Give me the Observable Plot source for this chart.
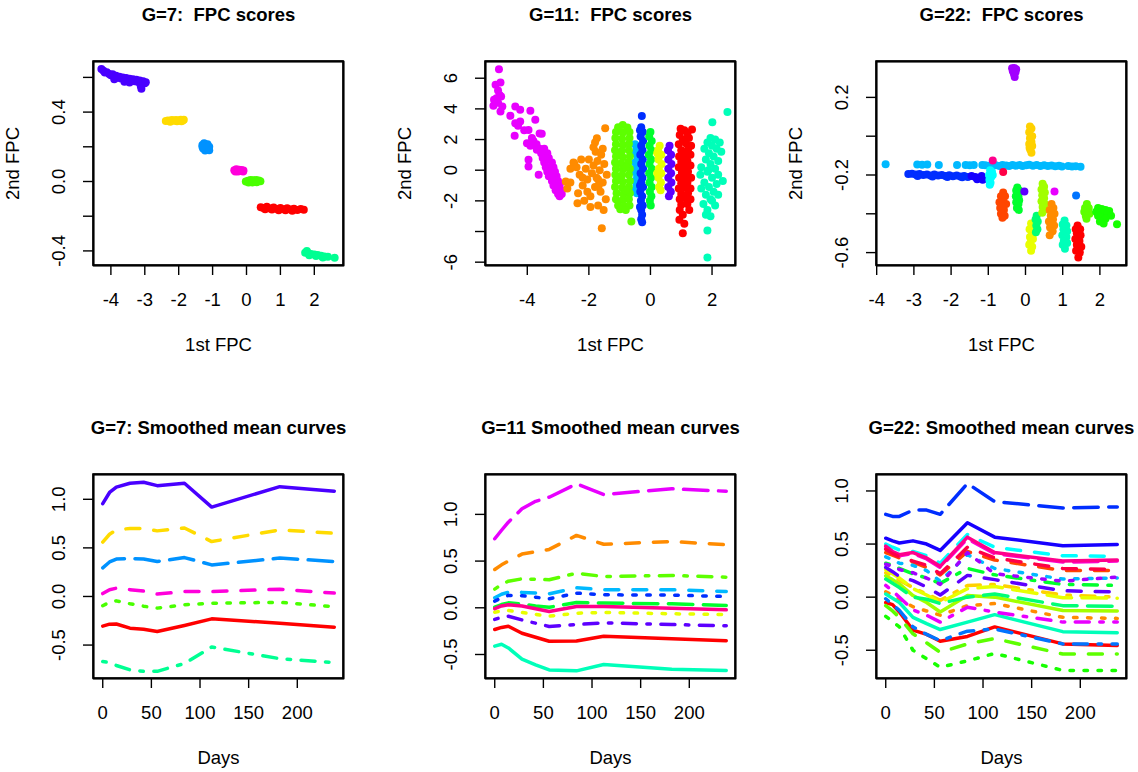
<!DOCTYPE html>
<html><head><meta charset="utf-8">
<script src="https://cdn.jsdelivr.net/npm/d3@7"></script>
<script src="https://cdn.jsdelivr.net/npm/@observablehq/plot@0.6"></script>
<style>
html,body{margin:0;padding:0;background:#fff;overflow:hidden;}
#root{position:relative;width:1138px;height:772px;}
#root svg{position:absolute;overflow:visible;}
#root text{white-space:pre;}
</style></head><body><div id="root"></div>
<script>
// ---------- common ----------
const days = [0, 7, 14, 28, 42, 56, 84, 112, 182, 238];
const rainbow7 = ["#FF0000","#FFDB00","#49FF00","#00FF92","#0092FF","#4900FF","#FF00DB"];
const rainbow11 = ["#FF0000","#FF8B00","#E8FF00","#5DFF00","#00FF2E","#00FFB9","#00B9FF","#002EFF","#5D00FF","#E800FF","#FF008B"];
const rainbow22 = ["#FF0000","#FF4600","#FF8B00","#FFD100","#E8FF00","#A2FF00","#5DFF00","#17FF00","#00FF2E","#00FF74","#00FFB9","#00FFFF","#00B9FF","#0074FF","#002EFF","#1700FF","#5D00FF","#A200FF","#E800FF","#FF00D1","#FF008B","#FF0046"];
const ltyDash = [null, "14,14", "3.5,10.5", "3.5,10.5,14,10.5", "24.5,10.5"];

// ---------- G=7 FPC scores ----------
const g7Purple = [[-4.28,0.648],[-4.22,0.638],[-4.18,0.628],[-4.12,0.63],[-4.05,0.62],[-4.0,0.612],[-3.95,0.618],[-3.9,0.605],[-3.85,0.61],[-3.8,0.598],[-3.75,0.604],[-3.7,0.594],[-3.65,0.6],[-3.6,0.588],[-3.55,0.596],[-3.5,0.585],[-3.45,0.592],[-3.4,0.58],[-3.35,0.59],[-3.3,0.578],[-3.25,0.586],[-3.2,0.574],[-3.15,0.582],[-3.1,0.57],[-3.05,0.578],[-3.0,0.566],[-2.97,0.572],[-3.12,0.55],[-3.1,0.535],[-3.6,0.575],[-3.45,0.57],[-3.9,0.59]];
const g7Gold = [[-2.38,0.348],[-2.32,0.352],[-2.26,0.35],[-2.2,0.354],[-2.14,0.35],[-2.08,0.355],[-2.0,0.352],[-1.94,0.356],[-1.88,0.352],[-1.85,0.356],[-2.25,0.345],[-2.05,0.347],[-1.92,0.347]];
const g7Blue = [[-1.3,0.21],[-1.25,0.22],[-1.15,0.215],[-1.1,0.2],[-1.2,0.2],[-1.28,0.19],[-1.15,0.185],[-1.22,0.178],[-1.1,0.18],[-1.3,0.2]];
const g7Magenta = [[-0.36,0.065],[-0.3,0.07],[-0.22,0.068],[-0.15,0.066],[-0.09,0.064],[-0.33,0.058],[-0.25,0.058],[-0.17,0.06],[-0.1,0.058]];
const g7Green = [[-0.02,0.0],[0.05,0.005],[0.12,0.008],[0.2,0.007],[0.28,0.008],[0.36,0.006],[0.41,0.002],[0.06,-0.006],[0.18,-0.006],[0.3,-0.004]];
const g7Red = [[0.42,-0.148],[0.5,-0.152],[0.6,-0.146],[0.7,-0.155],[0.8,-0.15],[0.9,-0.158],[1.0,-0.152],[1.1,-0.16],[1.2,-0.154],[1.3,-0.162],[1.4,-0.157],[1.5,-0.164],[1.6,-0.158],[1.69,-0.163],[0.55,-0.16],[0.75,-0.162],[0.95,-0.165],[1.15,-0.166],[1.35,-0.168]];
const g7Teal = [[1.73,-0.41],[1.82,-0.412],[1.9,-0.418],[2.0,-0.42],[2.1,-0.424],[2.2,-0.428],[2.3,-0.432],[2.4,-0.434],[2.6,-0.44],[1.85,-0.425],[2.05,-0.43],[2.25,-0.438],[1.78,-0.4]];
const g7Scores = [[g7Purple,5],[g7Gold,1],[g7Blue,4],[g7Magenta,6],[g7Green,2],[g7Red,0],[g7Teal,3]];

// ---------- G=11 FPC scores ----------
const g11Magenta = [[-4.92,6.59],[-5.03,5.57],[-4.87,5.72],[-4.95,5.2],[-5.08,4.59],[-5.1,4.2],[-4.95,4.4],[-4.81,4.16],[-4.87,3.83],[-4.85,4.8],[-4.9,4.9],[-5.0,4.7],[-4.55,3.55],[-4.39,4.16],[-4.23,3.94],[-3.9,3.88],[-3.74,3.29],[-4.39,3.07],[-4.23,3.18],[-4.41,2.24],[-3.96,2.63],[-3.53,2.37],[-4.01,1.76],[-3.96,0.68],[-3.96,0.24],[-3.63,-0.3],[-3.69,1.33],[-4.3,2.9],[-4.1,2.6],[-3.85,2.1],[-3.6,2.4],[-3.8,1.9],[-3.9,1.6],[-3.7,1.7],[-3.6,1.4],[-3.45,1.4],[-3.55,1.1],[-3.35,1.1],[-3.5,0.8],[-3.3,0.8],[-3.45,0.5],[-3.2,0.5],[-3.4,0.2],[-3.15,0.2],[-3.28,0.2],[-3.35,-0.1],[-3.1,-0.1],[-3.22,-0.1],[-3.3,-0.4],[-3.05,-0.4],[-3.18,-0.4],[-3.2,-0.7],[-3.0,-0.7],[-3.1,-0.7],[-3.15,-1.0],[-2.95,-1.0],[-3.05,-1.0],[-3.08,-1.3],[-2.9,-1.3],[-3.0,-1.55],[-2.88,-1.55],[-2.95,-1.7]];
const g11Orange = [[-2.75,-0.74],[-2.7,-1.2],[-2.6,-0.8],[-2.5,0.5],[-2.48,0.46],[-2.4,0.2],[-2.37,-2.15],[-2.35,-1.5],[-2.3,-0.3],[-2.25,0.7],[-2.2,-1.0],[-2.15,-2.0],[-2.1,0.1],[-2.05,-0.6],[-2.0,0.7],[-1.95,-1.7],[-1.9,-0.2],[-1.85,0.3],[-1.8,-1.1],[-1.78,1.2],[-1.75,-0.5],[-1.72,0.6],[-1.74,2.08],[-1.7,-2.3],[-1.65,0.0],[-1.62,-1.4],[-1.6,1.0],[-1.58,-3.78],[-1.55,-0.8],[-1.52,-2.59],[-1.5,0.4],[-1.47,2.74],[-1.45,-1.9],[-1.42,-0.3],[-1.85,1.5],[-1.95,-2.4],[-2.6,0.1],[-2.2,-0.5],[-1.68,-1.0],[-1.8,1.8],[-2.05,-1.4],[-1.55,1.4],[-1.7,-0.6]];
const g11LightBlue = [[-0.5,1.7],[-0.45,1.4],[-0.52,1.1],[-0.42,0.8],[-0.5,0.5],[-0.44,0.2],[-0.52,-0.1],[-0.43,-0.4],[-0.5,-0.7],[-0.45,-1.0],[-0.5,-1.3],[-0.44,-1.5],[-0.38,1.2],[-0.38,0.0],[-0.38,-0.9]];
const g11Chartreuse = [[-0.9,2.95],[-1.05,2.8],[-0.75,2.78],[-1.12,2.5],[-0.9,2.45],[-0.68,2.5],[-1.14,2.1],[-0.92,2.05],[-0.68,2.1],[-1.12,1.7],[-0.9,1.65],[-0.7,1.72],[-1.15,1.3],[-0.93,1.25],[-0.7,1.3],[-1.12,0.9],[-0.9,0.85],[-0.67,0.9],[-1.15,0.5],[-0.95,0.45],[-0.72,0.5],[-1.12,0.1],[-0.9,0.05],[-0.67,0.1],[-1.14,-0.3],[-0.93,-0.35],[-0.7,-0.3],[-1.12,-0.7],[-0.9,-0.75],[-0.67,-0.7],[-1.15,-1.1],[-0.92,-1.15],[-0.7,-1.1],[-1.1,-1.5],[-0.88,-1.55],[-0.67,-1.5],[-1.12,-1.9],[-0.9,-1.95],[-0.7,-1.9],[-1.05,-2.3],[-0.85,-2.35],[-0.68,-2.3],[-0.98,-2.55],[-0.8,-2.6],[-0.62,-3.35],[-1.0,1.0],[-0.8,0.2],[-1.0,-0.5],[-0.8,-1.3]];
const g11Blue = [[-0.28,3.54],[-0.3,2.8],[-0.25,2.5],[-0.32,2.2],[-0.24,1.9],[-0.3,1.6],[-0.26,1.3],[-0.33,1.0],[-0.25,0.7],[-0.3,0.4],[-0.24,0.1],[-0.32,-0.2],[-0.26,-0.5],[-0.3,-0.8],[-0.24,-1.1],[-0.33,-1.4],[-0.27,-1.7],[-0.31,-2.0],[-0.25,-2.3],[-0.3,-2.6],[-0.27,-2.9],[-0.3,-3.2],[-0.27,-3.4],[-0.34,2.6],[-0.34,-1.0],[-0.34,-2.4]];
const g11Green = [[0.0,2.5],[-0.04,2.2],[0.04,1.9],[-0.03,1.6],[0.03,1.3],[-0.05,1.0],[0.02,0.7],[-0.03,0.4],[0.04,0.1],[-0.04,-0.2],[0.02,-0.5],[-0.03,-0.8],[0.04,-1.1],[-0.02,-1.4],[0.03,-1.7],[-0.02,-2.0],[0.01,-2.3]];
const g11Yellow = [[0.3,1.6],[0.25,1.3],[0.35,1.0],[0.26,0.7],[0.36,0.4],[0.27,0.1],[0.35,-0.2],[0.26,-0.5],[0.34,-0.8],[0.28,-1.1],[0.33,-1.3],[0.22,1.1],[0.22,-0.2]];
const g11Purple = [[0.62,1.6],[0.57,1.3],[0.67,1.0],[0.58,0.7],[0.68,0.4],[0.58,0.1],[0.67,-0.2],[0.58,-0.5],[0.68,-0.8],[0.58,-1.1],[0.66,-1.4],[0.6,-1.7]];
const g11Red = [[0.98,2.7],[1.1,2.6],[1.35,2.65],[1.2,2.4],[0.95,2.3],[1.05,2.0],[1.25,2.1],[0.92,1.7],[1.15,1.75],[1.32,1.6],[1.0,1.3],[1.22,1.35],[0.93,0.9],[1.1,0.95],[1.3,1.0],[1.0,0.55],[1.2,0.6],[0.92,0.2],[1.12,0.25],[1.3,0.3],[1.02,-0.15],[1.22,-0.1],[0.93,-0.5],[1.12,-0.45],[1.32,-0.5],[1.0,-0.85],[1.2,-0.8],[0.92,-1.2],[1.12,-1.15],[1.3,-1.2],[1.0,-1.55],[1.22,-1.5],[0.95,-1.9],[1.15,-1.85],[1.3,-1.9],[1.0,-2.25],[1.2,-2.2],[0.95,-2.6],[1.26,-2.6],[0.94,-3.24],[1.1,-3.5],[1.05,-4.11],[1.05,-2.9]];
const g11Aqua = [[2.5,3.79],[2.01,3.13],[1.85,-3.93],[1.85,-5.69],[1.95,2.1],[2.1,2.0],[1.85,1.8],[2.25,1.8],[2.0,1.6],[1.75,1.4],[2.15,1.4],[1.9,1.1],[2.3,1.2],[2.05,0.9],[1.8,0.7],[2.2,0.6],[1.95,0.4],[1.65,0.2],[2.35,-0.7],[2.1,0.1],[1.85,-0.1],[2.2,-0.3],[1.62,-0.3],[2.0,-0.5],[1.75,-0.8],[2.15,-0.9],[1.9,-1.1],[1.65,-1.2],[2.05,-1.4],[1.8,-1.6],[2.2,-1.6],[1.95,-1.9],[1.72,-2.2],[2.1,-2.3],[1.85,-2.6],[1.95,-3.0],[1.8,-2.9],[2.0,-2.0],[1.88,0.0]];
const g11Scores = [[g11Magenta,9],[g11Orange,1],[g11LightBlue,6],[g11Chartreuse,3],[g11Blue,7],[g11Green,4],[g11Yellow,2],[g11Purple,8],[g11Red,0],[g11Aqua,5]];

// ---------- G=22 FPC scores ----------
const g22LightBlue = [[-3.76,-0.144],[-2.91,-0.146],[-2.78,-0.147],[-2.64,-0.146],[-2.33,-0.148],[-1.84,-0.148],[-1.61,-0.149],[-1.5,-0.15],[-1.39,-0.149],[-1.16,-0.148],[-1.08,-0.15],[-0.98,-0.152],[-0.9,-0.147],[-0.8,-0.15],[-0.7,-0.153],[-0.62,-0.148],[-0.52,-0.151],[-0.44,-0.154],[-0.35,-0.149],[-0.26,-0.152],[-0.16,-0.148],[-0.08,-0.153],[0.02,-0.15],[0.1,-0.147],[0.2,-0.152],[0.3,-0.149],[0.4,-0.153],[0.5,-0.15],[0.6,-0.154],[0.7,-0.151],[0.8,-0.155],[0.9,-0.152],[0.98,-0.156],[1.15,-0.153],[1.25,-0.156],[1.35,-0.155],[1.48,-0.157]];
const g22Blue = [[-3.15,-0.195],[-3.05,-0.193],[-2.95,-0.198],[-2.85,-0.195],[-2.75,-0.2],[-2.65,-0.197],[-2.55,-0.202],[-2.45,-0.198],[-2.35,-0.203],[-2.25,-0.2],[-2.15,-0.205],[-2.05,-0.201],[-1.95,-0.206],[-1.85,-0.203],[-1.75,-0.208],[-1.65,-0.205],[-1.55,-0.21],[-2.9,-0.205],[-2.5,-0.208],[-2.1,-0.21],[-1.7,-0.212]];
const g22DeepBlue = [[-1.45,-0.205],[-1.35,-0.21],[-1.25,-0.215],[-1.18,-0.205],[-1.15,-0.225],[-1.3,-0.222]];
const g22Cyan = [[-0.95,-0.175],[-0.9,-0.185],[-0.98,-0.2],[-0.92,-0.21],[-0.97,-0.225],[-0.94,-0.24],[-0.96,-0.25],[-0.88,-0.2]];
const g22Pink = [[-0.88,-0.125]];
const g22Crimson = [[-0.6,-0.185]];
const g22OrangeRed = [[-0.6,-0.29],[-0.66,-0.31],[-0.55,-0.31],[-0.7,-0.34],[-0.6,-0.34],[-0.52,-0.35],[-0.68,-0.37],[-0.58,-0.38],[-0.66,-0.4],[-0.56,-0.41],[-0.62,-0.42],[-0.62,-0.36]];
const g22Green = [[-0.22,-0.265],[-0.25,-0.28],[-0.17,-0.28],[-0.26,-0.31],[-0.19,-0.31],[-0.17,-0.33],[-0.25,-0.34],[-0.19,-0.35],[-0.23,-0.37],[-0.18,-0.38],[-0.21,-0.3]];
const g22Violet = [[-0.03,-0.285]];
const g22Magenta = [[0.78,-0.285]];
const g22Azure = [[1.36,-0.306]];
const g22Gold = [[0.12,0.05],[0.16,0.04],[0.1,0.02],[0.18,0.0],[0.12,-0.01],[0.16,-0.03],[0.1,-0.04],[0.18,-0.05],[0.13,-0.07],[0.16,-0.085],[0.11,-0.06]];
const g22Purple = [[-0.36,0.35],[-0.3,0.352],[-0.25,0.345],[-0.34,0.335],[-0.27,0.33],[-0.31,0.32],[-0.29,0.305]];
const g22Yellow = [[0.15,-0.45],[0.2,-0.47],[0.11,-0.48],[0.18,-0.5],[0.12,-0.52],[0.2,-0.53],[0.13,-0.55],[0.18,-0.57],[0.15,-0.59],[0.1,-0.56],[0.22,-0.5]];
const g22Mint = [[0.3,-0.41],[0.27,-0.43],[0.33,-0.44],[0.29,-0.46],[0.32,-0.48],[0.28,-0.495]];
const g22Lime = [[0.46,-0.245],[0.5,-0.26],[0.43,-0.275],[0.52,-0.29],[0.45,-0.305],[0.5,-0.32],[0.43,-0.335],[0.52,-0.35],[0.46,-0.365],[0.5,-0.38],[0.45,-0.395]];
const g22Orange = [[0.7,-0.35],[0.75,-0.37],[0.65,-0.38],[0.78,-0.4],[0.68,-0.41],[0.74,-0.43],[0.63,-0.44],[0.77,-0.46],[0.66,-0.47],[0.73,-0.49],[0.65,-0.51],[0.7,-0.45]];
const g22Aqua = [[1.05,-0.435],[1.0,-0.455],[1.1,-0.46],[1.02,-0.48],[1.12,-0.49],[0.99,-0.51],[1.1,-0.52],[1.03,-0.54],[1.12,-0.55],[1.0,-0.56],[1.06,-0.58]];
const g22Red = [[1.4,-0.46],[1.35,-0.48],[1.47,-0.48],[1.38,-0.5],[1.48,-0.51],[1.34,-0.53],[1.45,-0.54],[1.38,-0.56],[1.5,-0.57],[1.36,-0.59],[1.46,-0.6],[1.42,-0.625]];
const g22YellowGreen = [[1.65,-0.35],[1.6,-0.37],[1.7,-0.37],[1.58,-0.39],[1.68,-0.395],[1.62,-0.41],[1.72,-0.4],[1.64,-0.425]];
const g22BrightGreen = [[1.95,-0.37],[2.05,-0.375],[2.15,-0.38],[2.25,-0.385],[1.9,-0.39],[2.0,-0.395],[2.1,-0.4],[2.2,-0.4],[2.3,-0.41],[1.95,-0.41],[2.05,-0.42],[2.15,-0.425],[2.0,-0.44],[2.1,-0.45],[2.46,-0.454]];
const g22Scores = [[g22LightBlue,12],[g22Blue,14],[g22DeepBlue,15],[g22Cyan,11],[g22Pink,20],[g22Crimson,21],[g22OrangeRed,1],[g22Green,8],[g22Violet,16],[g22Magenta,18],[g22Azure,13],[g22Gold,3],[g22Purple,17],[g22Yellow,4],[g22Mint,9],[g22Lime,5],[g22Orange,2],[g22Aqua,10],[g22Red,0],[g22YellowGreen,6],[g22BrightGreen,7]];

// ---------- G=7 smoothed mean curves (values at days) ----------
const g7MeanRed     = [-0.305,-0.285,-0.283,-0.326,-0.337,-0.36,-0.298,-0.23,-0.275,-0.316];
const g7MeanGold    = [0.56,0.64,0.685,0.70,0.70,0.675,0.705,0.565,0.685,0.65];
const g7MeanGreen   = [-0.095,-0.06,-0.045,-0.075,-0.1,-0.12,-0.085,-0.07,-0.06,-0.105];
const g7MeanTeal    = [-0.67,-0.68,-0.71,-0.755,-0.77,-0.77,-0.69,-0.52,-0.64,-0.68];
const g7MeanBlue    = [0.295,0.355,0.385,0.39,0.385,0.36,0.40,0.325,0.395,0.36];
const g7MeanPurple  = [0.955,1.07,1.125,1.165,1.175,1.14,1.165,0.92,1.13,1.083];
const g7MeanMagenta = [0.03,0.07,0.085,0.07,0.055,0.025,0.05,0.05,0.075,0.035];
const g7Means = [g7MeanRed,g7MeanGold,g7MeanGreen,g7MeanTeal,g7MeanBlue,g7MeanPurple,g7MeanMagenta];

// ---------- G=11 smoothed mean curves ----------
const g11MeanRed     = [-0.232,-0.21,-0.197,-0.272,-0.315,-0.358,-0.355,-0.304,-0.332,-0.353];
const g11MeanOrange  = [0.41,0.46,0.50,0.575,0.60,0.625,0.775,0.68,0.71,0.675];
const g11MeanYellow  = [-0.047,-0.035,-0.029,-0.05,-0.07,-0.09,-0.058,-0.05,-0.064,-0.072];
const g11MeanChart   = [0.2,0.25,0.285,0.31,0.305,0.30,0.37,0.335,0.346,0.328];
const g11MeanGreen   = [0.007,0.035,0.053,0.04,0.02,0.005,0.057,0.05,0.043,0.025];
const g11MeanAqua    = [-0.41,-0.39,-0.43,-0.55,-0.61,-0.665,-0.675,-0.607,-0.657,-0.671];
const g11MeanLBlue   = [0.107,0.145,0.167,0.165,0.158,0.15,0.214,0.193,0.193,0.175];
const g11MeanBlue    = [0.071,0.105,0.132,0.13,0.113,0.096,0.157,0.139,0.136,0.121];
const g11MeanPurple  = [-0.125,-0.1,-0.09,-0.13,-0.165,-0.2,-0.179,-0.161,-0.179,-0.193];
const g11MeanMagenta = [0.739,0.83,0.917,1.06,1.14,1.184,1.327,1.213,1.274,1.248];
const g11MeanPink    = [-0.01,0.02,0.032,0.02,-0.01,-0.04,0.014,0.014,-0.004,-0.022];
const g11Means = [g11MeanRed,g11MeanOrange,g11MeanYellow,g11MeanChart,g11MeanGreen,g11MeanAqua,g11MeanLBlue,g11MeanBlue,g11MeanPurple,g11MeanMagenta,g11MeanPink];

// ---------- G=22 smoothed mean curves ----------
const g22Means = [
  [-0.05,-0.07,-0.14,-0.31,-0.35,-0.415,-0.37,-0.28,-0.44,-0.455],
  [0.42,0.395,0.37,0.33,0.28,0.21,0.43,0.35,0.25,0.25],
  [0.05,0.02,-0.02,-0.09,-0.13,-0.17,-0.08,-0.06,-0.19,-0.20],
  [0.23,0.2,0.16,0.09,0.03,-0.03,0.11,0.12,0.02,0.0],
  [0.26,0.22,0.18,0.08,0.02,-0.05,0.08,0.10,-0.005,-0.01],
  [0.20,0.165,0.125,0.015,-0.05,-0.14,0.015,0.0,-0.125,-0.13],
  [-0.08,-0.13,-0.19,-0.345,-0.43,-0.52,-0.44,-0.39,-0.535,-0.535],
  [-0.18,-0.23,-0.28,-0.50,-0.58,-0.66,-0.60,-0.53,-0.69,-0.69],
  [0.32,0.3,0.27,0.22,0.18,0.13,0.27,0.21,0.12,0.11],
  [0.17,0.13,0.09,0.0,-0.02,-0.06,0.0,0.03,-0.08,-0.085],
  [0.03,-0.01,-0.05,-0.19,-0.25,-0.305,-0.235,-0.165,-0.325,-0.335],
  [0.50,0.47,0.445,0.43,0.39,0.32,0.59,0.47,0.39,0.385],
  [0.38,0.35,0.32,0.30,0.25,0.15,0.40,0.27,0.17,0.18],
  [-0.015,-0.07,-0.125,-0.28,-0.35,-0.41,-0.32,-0.30,-0.44,-0.44],
  [0.78,0.76,0.76,0.82,0.82,0.78,1.07,0.90,0.84,0.85],
  [0.555,0.53,0.51,0.53,0.50,0.44,0.70,0.565,0.485,0.495],
  [0.28,0.24,0.195,0.155,0.095,0.02,0.205,0.165,0.06,0.05],
  [0.31,0.29,0.26,0.23,0.18,0.12,0.42,0.22,0.15,0.19],
  [0.11,0.06,0.0,-0.12,-0.17,-0.235,-0.095,-0.14,-0.235,-0.235],
  [0.46,0.42,0.39,0.41,0.36,0.28,0.55,0.41,0.33,0.34],
  [0.48,0.43,0.40,0.42,0.37,0.29,0.565,0.42,0.34,0.35],
  [0.45,0.41,0.38,0.34,0.30,0.22,0.47,0.37,0.27,0.26]
];

// ---------- ticks ----------
const fpcTicks7 = [-4,-3,-2,-1,0,1,2];
const fpcTicks11 = [-4,-2,0,2];
const dayTicks = [0,50,100,150,200];
const y7Ticks = [-0.4,-0.2,0,0.2,0.4,0.6];
const y7Labels = [[-0.4,"-0.4"],[0,"0.0"],[0.4,"0.4"]];
const y11Ticks = [-6,-4,-2,0,2,4,6];
const y11Labels = [[-6,"-6"],[-2,"-2"],[0,"0"],[2,"2"],[4,"4"],[6,"6"]];
const y22Ticks = [-0.6,-0.4,-0.2,0,0.2];
const y22Labels = [[-0.6,"-0.6"],[-0.2,"-0.2"],[0.2,"0.2"]];
const meanTicks = [-0.5,0,0.5,1];
const meanLabels = [[-0.5,"-0.5"],[0,"0.0"],[0.5,"0.5"],[1,"1.0"]];

const FONT = "'Liberation Sans', Arial, Helvetica, sans-serif";
const FS = 18.5;
const ML = 93, MT = 61, W = 250, H = 204, MR = 12, MB = 92;
const root = document.getElementById("root");
const frames = [];

function panel(o) {
  const [x0, x1] = o.xDomain, [y0, y1] = o.yDomain;
  const boxPath = [[x0, y0], [x1, y0], [x1, y1], [x0, y1], [x0, y0]];
  const marks = [
    Plot.line(boxPath, {x: d => d[0], y: d => d[1], stroke: "#000000", strokeWidth: 1.5}),
    ...o.marks,
    Plot.axisX({ticks: o.xTicks, tickSize: 10, tickFormat: () => "", label: null, strokeWidth: 1.4}),
    Plot.axisY({ticks: o.yTicks, tickSize: 10, tickFormat: () => "", label: null, strokeWidth: 1.4}),
    Plot.text(o.xTicks, {x: d => d, text: d => String(d).replace("\u2212", "-"), frameAnchor: "bottom", dy: 35, lineAnchor: "middle", fontSize: FS}),
    Plot.text(o.yLabels, {y: d => d[0], text: d => d[1], frameAnchor: "left", dx: -34, rotate: -90, textAnchor: "middle", lineAnchor: "middle", fontSize: FS}),
    Plot.text([o.title], {text: d => d, frameAnchor: "top", dy: -46, lineAnchor: "middle", fontWeight: "bold", fontSize: FS}),
    Plot.text([o.xTitle], {text: d => d, frameAnchor: "bottom", dy: 80, lineAnchor: "middle", fontSize: FS}),
    Plot.rect([0], {x1: x0, x2: x1, y1: y0, y2: y1, fill: "none", stroke: "#000000", strokeWidth: 1.5})
  ];
  if (o.yTitle) marks.push(Plot.text([o.yTitle], {text: d => d, frameAnchor: "left", dx: -80, rotate: -90, textAnchor: "middle", lineAnchor: "middle", fontSize: FS}));
  marks.push(Plot.frame({stroke: "#000000", strokeWidth: 1.5}));
  const svg = Plot.plot({
    width: ML + W + MR, height: MT + H + MB,
    marginLeft: ML, marginTop: MT, marginRight: MR, marginBottom: MB,
    x: {domain: o.xDomain}, y: {domain: o.yDomain},
    style: {fontFamily: FONT, fontSize: FS + "px", background: "transparent", overflow: "visible", color: "black", maxWidth: "none"},
    marks
  });
  svg.style.left = o.left + "px";
  svg.style.top = o.top + "px";
  root.appendChild(svg);
  frames.push(o);
}

function scoreMarks(groups, palette) {
  return groups.map(([pts, ci]) => Plot.dot(pts, {x: d => d[0], y: d => d[1], r: 4, fill: palette[ci]}));
}
function meanMarks(series, palette, w) {
  return series.map((vals, i) => Plot.line(days, {
    x: d => d, y: (d, j) => vals[j], stroke: palette[i], strokeWidth: w,
    strokeDasharray: ltyDash[i % 5] || undefined, strokeLinecap: "round", strokeLinejoin: "round"
  }));
}

panel({left: 0, top: 0, xDomain: [-4.513, 2.861], yDomain: [-0.4841, 0.6916], xTicks: fpcTicks7, yTicks: y7Ticks, yLabels: y7Labels,
  title: "G=7:  FPC scores", xTitle: "1st FPC", yTitle: "2nd FPC", marks: scoreMarks(g7Scores, rainbow7)});
panel({left: 392, top: 0, xDomain: [-5.357, 2.762], yDomain: [-6.217, 7.091], xTicks: fpcTicks11, yTicks: y11Ticks, yLabels: y11Labels,
  title: "G=11:  FPC scores", xTitle: "1st FPC", yTitle: "2nd FPC", marks: scoreMarks(g11Scores, rainbow11)});
panel({left: 783, top: 0, xDomain: [-4.005, 2.715], yDomain: [-0.6665, 0.385], xTicks: fpcTicks7, yTicks: y22Ticks, yLabels: y22Labels,
  title: "G=22:  FPC scores", xTitle: "1st FPC", yTitle: "2nd FPC", marks: scoreMarks(g22Scores, rainbow22)});
panel({left: 0.3, top: 413, xDomain: [-9.5, 247.5], yDomain: [-0.844, 1.255], xTicks: dayTicks, yTicks: meanTicks, yLabels: meanLabels,
  title: "G=7: Smoothed mean curves", xTitle: "Days", marks: meanMarks(g7Means, rainbow7, 3.5)});
panel({left: 392, top: 413, xDomain: [-9.5, 247.5], yDomain: [-0.757, 1.427], xTicks: dayTicks, yTicks: meanTicks, yLabels: meanLabels,
  title: "G=11 Smoothed mean curves", xTitle: "Days", marks: meanMarks(g11Means, rainbow11, 3.5)});
panel({left: 783, top: 413, xDomain: [-9.5, 247.5], yDomain: [-0.766, 1.155], xTicks: dayTicks, yTicks: meanTicks, yLabels: meanLabels,
  title: "G=22: Smoothed mean curves", xTitle: "Days", marks: meanMarks(g22Means, rainbow22, 3.5)});

// separate transparent overlay per panel carrying only the plot box
for (const o of frames) {
  try {
    const f = Plot.plot({
      width: ML + W + MR, height: MT + H + MB,
      marginLeft: ML, marginTop: MT, marginRight: MR, marginBottom: MB,
      x: {domain: o.xDomain, axis: null}, y: {domain: o.yDomain, axis: null},
      style: {background: "transparent", overflow: "visible", color: "black", maxWidth: "none"},
      marks: [Plot.frame({stroke: "#000000", strokeWidth: 1.5})]
    });
    f.style.left = o.left + "px";
    f.style.top = o.top + "px";
    root.appendChild(f);
  } catch (e) {}
}
</script>
</body></html>
